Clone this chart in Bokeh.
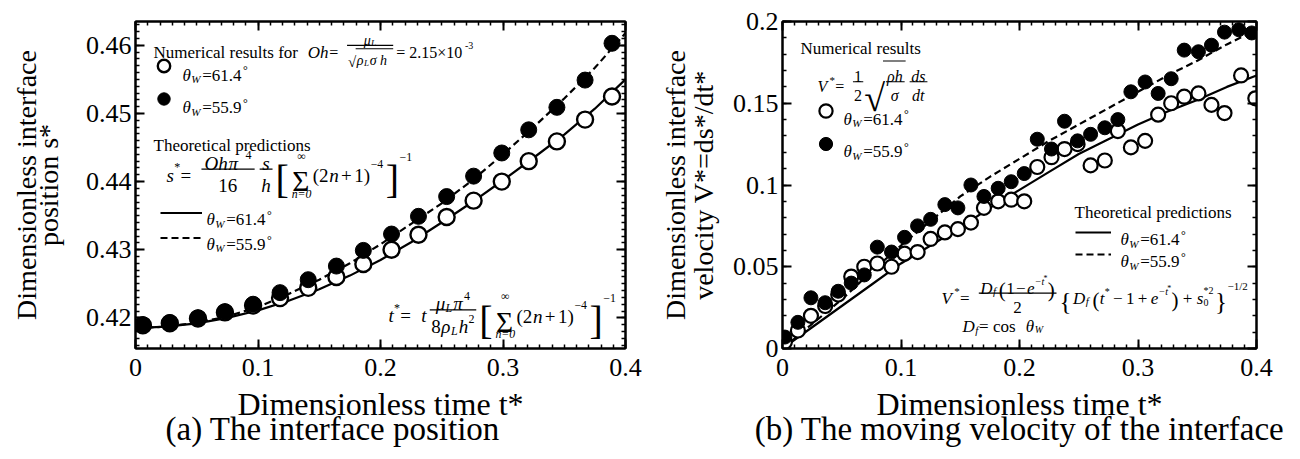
import numpy as np
from bokeh.plotting import figure
from bokeh.layouts import row
from bokeh.models import (Range1d, LinearAxis, FixedTicker, NumeralTickFormatter, Label,
                          BoxAnnotation, Legend, LegendItem, Title, CustomJSTickFormatter)
from bokeh.embed import file_html
from bokeh.resources import INLINE

FONT = "Liberation Serif"

# ---------------- panel (a): interface position ----------------
a_t = [0.006, 0.028, 0.051, 0.073, 0.096, 0.118, 0.141, 0.164, 0.186, 0.209,
       0.231, 0.254, 0.276, 0.299, 0.321, 0.344, 0.367, 0.389]
a_open_s = [0.4189, 0.4192, 0.4199, 0.4208, 0.4218, 0.4229, 0.4244, 0.4260, 0.4279, 0.4300,
            0.4322, 0.4348, 0.4372, 0.4400, 0.4430, 0.4459, 0.4491, 0.4525]   # theta_W = 61.4
a_fill_s = [0.4190, 0.4193, 0.4200, 0.4209, 0.4220, 0.4237, 0.4256, 0.4276, 0.4299, 0.4323,
            0.4349, 0.4378, 0.4408, 0.4442, 0.4476, 0.4509, 0.4549, 0.4603]   # theta_W = 55.9
a_theory_t = [0, 0.025, 0.05, 0.075, 0.1, 0.125, 0.15, 0.175, 0.2, 0.225, 0.25, 0.275,
              0.3, 0.325, 0.35, 0.375, 0.4]
a_theory_614 = [0.4185, 0.4187, 0.4192, 0.4200, 0.4211, 0.4225, 0.4242, 0.4262, 0.4285,
                0.4311, 0.4340, 0.4370, 0.4402, 0.4435, 0.4469, 0.4507, 0.4550]
a_theory_559 = [0.4185, 0.4187, 0.4193, 0.4202, 0.4216, 0.4235, 0.4256, 0.4280, 0.4308,
                0.4338, 0.4368, 0.4402, 0.4440, 0.4480, 0.4522, 0.4567, 0.4618]
a_xticks = [0, 0.1, 0.2, 0.3, 0.4]
a_yticks = [0.42, 0.43, 0.44, 0.45, 0.46]

# ---------------- panel (b): interface velocity ----------------
b_open_t = [0.002, 0.013, 0.024, 0.036, 0.047, 0.058, 0.069, 0.080, 0.092, 0.103,
            0.114, 0.125, 0.137, 0.148, 0.159, 0.170, 0.182, 0.193, 0.204, 0.215,
            0.227, 0.238, 0.249, 0.260, 0.272, 0.283, 0.294, 0.306, 0.317, 0.328,
            0.339, 0.351, 0.362, 0.373, 0.387, 0.399]
b_open_v = [0.004, 0.011, 0.020, 0.026, 0.033, 0.044, 0.050, 0.052, 0.050, 0.058,
            0.059, 0.067, 0.071, 0.073, 0.077, 0.086, 0.090, 0.091, 0.090, 0.111,
            0.117, 0.122, 0.125, 0.112, 0.115, 0.133, 0.123, 0.127, 0.143, 0.150,
            0.154, 0.156, 0.149, 0.144, 0.167, 0.153]
b_fill_t = [0.002, 0.013, 0.024, 0.036, 0.047, 0.058, 0.069, 0.080, 0.092, 0.103,
            0.114, 0.125, 0.137, 0.148, 0.159, 0.170, 0.182, 0.193, 0.204, 0.215,
            0.227, 0.238, 0.249, 0.260, 0.272, 0.283, 0.294, 0.306, 0.317, 0.328,
            0.339, 0.351, 0.362, 0.373, 0.385, 0.396]
b_fill_v = [0.007, 0.016, 0.031, 0.028, 0.035, 0.040, 0.045, 0.062, 0.059, 0.068,
            0.075, 0.079, 0.088, 0.086, 0.100, 0.093, 0.098, 0.102, 0.107, 0.128,
            0.122, 0.139, 0.127, 0.131, 0.135, 0.140, 0.157, 0.163, 0.156, 0.165,
            0.1825, 0.1815, 0.1855, 0.1935, 0.195, 0.193]
b_theory_t = [0, 0.025, 0.05, 0.075, 0.1, 0.125, 0.15, 0.175, 0.2, 0.225, 0.25, 0.275,
              0.3, 0.325, 0.35, 0.375, 0.4]
b_theory_614 = [0, 0.013, 0.026, 0.039, 0.052, 0.063, 0.074, 0.086, 0.097, 0.108, 0.119,
                0.128, 0.137, 0.145, 0.152, 0.160, 0.167]
b_theory_559 = [0, 0.015, 0.030, 0.047, 0.063, 0.078, 0.093, 0.105, 0.116, 0.127, 0.137,
                0.147, 0.157, 0.167, 0.176, 0.186, 0.195]
b_xticks = [0, 0.1, 0.2, 0.3, 0.4]
b_yticks = [0, 0.05, 0.1, 0.15, 0.2]

# ---------------- text helpers ----------------
TW = {' ': .25, '(': .333, ')': .333, '*': .5, '+': .564, ',': .25, '-': .333, '.': .25,
      '/': .278, '=': .564, '[': .333, ']': .333, '{': .48, '}': .48, '°': .4, '×': .564,
      '−': .564, '∞': .71, 'Σ': .6, '√': .55, 'θ': .5, 'μ': .5, 'ρ': .5, 'σ': .55, 'π': .55,
      'A': .722, 'B': .667, 'C': .667, 'D': .722, 'E': .611, 'F': .556, 'H': .722, 'L': .611,
      'N': .722, 'O': .722, 'P': .556, 'T': .611, 'V': .722, 'W': .944,
      'a': .444, 'b': .5, 'c': .444, 'd': .5, 'e': .444, 'f': .333, 'g': .5, 'h': .5, 'i': .278,
      'l': .278, 'm': .778, 'n': .5, 'o': .5, 'p': .5, 'r': .333, 's': .389, 't': .278, 'u': .5,
      'v': .5, 'y': .5}


def tw(s, size):
    return 1.04 * sum(TW.get(c, 0.5) for c in s) * size


def R(s, size=16, it=False, dy=0, gap=0):
    return (s, size, "italic" if it else "normal", dy, gap)


def width(parts):
    return sum(tw(s, size) + gap for s, size, st, dy, gap in parts)


class Panel:
    def __init__(self, p, fl, fr, ft, fb, xr, yr):
        self.p, self.fl, self.fr, self.ft, self.fb = p, fl, fr, ft, fb
        self.x0, self.x1 = xr
        self.y0, self.y1 = yr

    def X(self, px):
        return self.x0 + (px - self.fl) / (self.fr - self.fl) * (self.x1 - self.x0)

    def Y(self, py):
        return self.y1 - (py - self.ft) / (self.fb - self.ft) * (self.y1 - self.y0)

    def txt(self, px, py, s, size, style="normal", align="left"):
        self.p.add_layout(Label(x=self.X(px), y=self.Y(py), text=s, text_font=FONT,
                                text_font_size=f"{size:.1f}px", text_font_style=style,
                                text_align=align, text_baseline="alphabetic",
                                text_color="black"))

    def bar(self, px0, px1, py, w=1.2):
        self.p.add_layout(BoxAnnotation(left=self.X(px0), right=self.X(px1),
                                        top=self.Y(py - w / 2), bottom=self.Y(py + w / 2),
                                        fill_color="black", fill_alpha=1.0, line_color=None))


def runs(P, x, yb, parts):
    for s, size, style, dy, gap in parts:
        x += gap
        P.txt(x, yb + dy, s, size, style)
        x += tw(s, size)
    return x


def frac(P, x, axis, num, den, pad=1.5, ndy=-5, ddy=14):
    wn, wd = width(num), width(den)
    w = max(wn, wd) + 2 * pad
    runs(P, x + (w - wn) / 2, axis + ndy, num)
    runs(P, x + (w - wd) / 2, axis + ddy, den)
    P.bar(x, x + w, axis)
    return x + w


def bracket_sum(P, x, a, size=16):
    bs = 2.1 * size
    P.txt(x, a + 0.27 * bs, "[", bs)
    x += tw("[", bs) + 3
    ss = 1.55 * size
    sw = tw("Σ", ss)
    P.txt(x, a + 0.42 * ss, "Σ", ss)
    P.txt(x + sw / 2, a - 0.72 * size, "∞", 0.62 * size, align="center")
    P.txt(x + sw / 2, a + 1.3 * size, "n=0", 0.62 * size, "italic", align="center")
    x += sw + 2
    x = runs(P, x, a + 0.33 * size, [R("(2", size), R("n", size, True), R("+", size, gap=2),
                                      R("1)", size, gap=2), R("−4", 0.62 * size, dy=-0.6 * size)])
    P.txt(x + 2, a + 0.27 * bs, "]", bs)
    x += 2 + tw("]", bs)
    return runs(P, x, a - 0.62 * size, [R("−1", 0.62 * size)])


def theta(P, x, yb, val, size=17):
    return runs(P, x, yb, [R("θ", size, True), R("W", 0.65 * size, True, dy=4),
                           R("=" + val, size), R("°", 0.7 * size, dy=-5)])


# ---------------- figures ----------------
def style_axis(ax):
    ax.axis_line_width = 2
    ax.axis_line_color = "black"
    ax.major_tick_in = 9
    ax.major_tick_out = 0
    ax.major_tick_line_width = 2
    ax.minor_tick_in = 4
    ax.minor_tick_out = 0
    ax.minor_tick_line_width = 1.5
    ax.major_label_text_font = FONT
    ax.major_label_text_font_size = "26px"
    ax.major_label_text_color = "black"
    ax.major_label_standoff = 4
    ax.axis_label_text_font = FONT
    ax.axis_label_text_font_style = "normal"
    ax.axis_label_text_color = "black"


def make_fig(xr, yr, fl, fr, ft, fb, xticks, xminor, yticks, yminor, ylab1, ylab2,
             s_in, s_out, subtitle):
    p = figure(width=650, height=459, x_range=Range1d(*xr), y_range=Range1d(*yr),
               output_backend="svg", toolbar_location=None,
               min_border_left=fl, min_border_right=650 - fr,
               min_border_top=ft, min_border_bottom=459 - fb)
    p.xgrid.visible = False
    p.ygrid.visible = False
    p.outline_line_color = "black"
    p.outline_line_width = 2
    xt = FixedTicker(ticks=xticks, minor_ticks=xminor)
    yt = FixedTicker(ticks=yticks, minor_ticks=yminor)
    fmt = NumeralTickFormatter(format="0.[00]")
    xa, ya = p.xaxis[0], p.yaxis[0]
    xa.ticker, ya.ticker = xt, yt
    xa.formatter, ya.formatter = fmt, fmt
    style_axis(xa)
    style_axis(ya)
    xa.major_label_standoff = 10
    xa.axis_label = "Dimensionless time t*"
    xa.axis_label_text_font_size = "32px"
    xa.axis_label_standoff = 7
    ya.axis_label = ylab2
    ya.axis_label_text_font_size = "28px"
    ya.axis_label_standoff = s_in
    blank = CustomJSTickFormatter(code="return ''")
    outer = LinearAxis(ticker=FixedTicker(ticks=[]), formatter=blank, axis_label=ylab1,
                       axis_line_color=None, major_tick_in=0, major_tick_out=0,
                       minor_tick_in=0, minor_tick_out=0, major_label_standoff=0,
                       axis_label_standoff=s_out, axis_label_text_font=FONT,
                       axis_label_text_font_size="28px", axis_label_text_font_style="normal",
                       axis_label_text_color="black")
    p.add_layout(outer, "left")
    top = LinearAxis(ticker=xt, formatter=blank)
    right = LinearAxis(ticker=yt, formatter=blank)
    style_axis(top)
    style_axis(right)
    p.add_layout(top, "above")
    p.add_layout(right, "right")
    p.add_layout(subtitle, "below")
    return p


def key_legend(items, vx, vy, gw, gh):
    return Legend(items=items, location=(vx, vy), orientation="vertical",
                  glyph_width=gw, glyph_height=gh, spacing=0, padding=0, margin=0,
                  label_standoff=0, label_width=0, label_height=gh,
                  border_line_alpha=0, background_fill_alpha=0)


MINOR_T = [float(v) for v in np.round(np.arange(0, 0.4001, 0.01), 3)]

# ---- panel (a)
AFL, AFR, AFT, AFB = 135, 625, 18, 348
AXR, AYR = (0, 0.4), (0.4155, 0.4635)
pa = make_fig(AXR, AYR, AFL, AFR, AFT, AFB, a_xticks, MINOR_T,
              a_yticks, [float(v) for v in np.round(np.arange(0.416, 0.4636, 0.001), 4)],
              "Dimensionless interface", "position s*", 19, -12,
              Title(text="(a) The interface position", align="left", offset=30,
                    text_font=FONT, text_font_size="33px", text_font_style="normal",
                    text_color="black", standoff=-32))
ra1 = pa.line(a_theory_t, a_theory_614, line_color="black", line_width=2.2)
ra2 = pa.line(a_theory_t, a_theory_559, line_color="black", line_width=2.2, line_dash="7 4")
ra3 = pa.scatter(a_t, a_open_s, marker="circle", size=16, fill_color="white",
                 line_color="black", line_width=2.4)
ra4 = pa.scatter(a_t, a_fill_s, marker="circle", size=16, fill_color="black",
                 line_color="black", line_width=1)
pa.add_layout(key_legend([LegendItem(label="", renderers=[ra3]),
                          LegendItem(label="", renderers=[ra4])],
                         12.5, AFB - 114.5, 31, 33))
pa.add_layout(key_legend([LegendItem(label="", renderers=[ra1]),
                          LegendItem(label="", renderers=[ra2])],
                         25, AFB - 249.5, 42, 25))
Pa = Panel(pa, AFL, AFR, AFT, AFB, AXR, AYR)

x = runs(Pa, 153, 49, [R("Numerical results for", 17), R("Oh", 17, True, gap=4), R(" = ", 16)])
num = [R("μ", 14, True), R("L", 9, True, dy=3)]
den = [R("ρ", 14, True), R("L", 9, True, dy=3), R(" σ h", 14, True)]
wsq = tw("√", 15)
wd = wsq + width(den) + 2
axis_y = 42
runs(Pa, x + (wd - width(num)) / 2, axis_y - 5, num)
Pa.txt(x + 1, axis_y + 17, "√", 15)
runs(Pa, x + 1 + wsq, axis_y + 15, den)
Pa.bar(x + wsq, x + 2 + wsq + width(den), axis_y + 3.5, 1)
Pa.bar(x, x + wd, axis_y)
runs(Pa, x + wd + 3, 49, [R("= 2.15×10", 16), R("-3", 10, dy=-7)])

theta(Pa, 182, 72, "61.4")
theta(Pa, 182, 105, "55.9")
runs(Pa, 153, 143, [R("Theoretical predictions", 17)])

F = 19
a = 167
x = runs(Pa, 166, a + 6, [R("s", F, True), R("*", 12, dy=-8), R(" = ", F)])
x = frac(Pa, x, a, [R("Oh", F, True), R(" π", F, True), R("4", 12, dy=-8, gap=1)],
         [R("16", F)], pad=3, ndy=-6, ddy=17)
x = frac(Pa, x + 5, a, [R("s", F, True)], [R("h", F, True)], ndy=-6, ddy=17)
bracket_sum(Pa, x + 3, a, F)

theta(Pa, 206, 218, "61.4")
theta(Pa, 206, 243, "55.9")

a = 309
x = runs(Pa, 388, a + 6, [R("t", F, True), R("*", 12, dy=-8), R(" = ", F), R("t", F, True)])
x = frac(Pa, x + 3, a,
         [R("μ", F, True), R("L", 12, True, dy=4), R("π", F, True), R("4", 12, dy=-8)],
         [R("8", F), R("ρ", F, True), R("L", 12, True, dy=4), R("h", F, True),
          R("2", 12, dy=-8)], ndy=-6, ddy=17)
bracket_sum(Pa, x + 3, a, F)

# ---- panel (b)
BFL, BFR, BFT, BFB = 132, 606, 21, 352
BXR, BYR = (0, 0.4), (0, 0.2)
pb = make_fig(BXR, BYR, BFL, BFR, BFT, BFB, b_xticks, MINOR_T,
              b_yticks, [float(v) for v in np.round(np.arange(0, 0.2001, 0.01), 3)],
              "Dimensionless interface", "velocity V*=ds*/dt*", 11, -6,
              Title(text="(b) The moving velocity of the interface", align="center",
                    text_font=FONT, text_font_size="33px", text_font_style="normal",
                    text_color="black", standoff=-32))
rb1 = pb.line(b_theory_t, b_theory_614, line_color="black", line_width=2.2)
rb2 = pb.line(b_theory_t, b_theory_559, line_color="black", line_width=2.2, line_dash="7 4")
rb3 = pb.scatter(b_open_t, b_open_v, marker="circle", size=14, fill_color="white",
                 line_color="black", line_width=2.2)
rb4 = pb.scatter(b_fill_t, b_fill_v, marker="circle", size=14, fill_color="black",
                 line_color="black", line_width=1)
pb.add_layout(key_legend([LegendItem(label="", renderers=[rb3]),
                          LegendItem(label="", renderers=[rb4])],
                         26.5, BFB - 163.5, 33, 33))
pb.add_layout(key_legend([LegendItem(label="", renderers=[rb1]),
                          LegendItem(label="", renderers=[rb2])],
                         293, BFB - 269, 36, 22))
Pb = Panel(pb, BFL, BFR, BFT, BFB, BXR, BYR)

runs(Pb, 150, 48, [R("Numerical results", 17)])
a = 82
x = runs(Pb, 167, a + 5, [R("V", 16, True), R("*", 11, dy=-7), R(" = ", 16)])
x = frac(Pb, x, a, [R("1")], [R("2")], pad=1)
Pb.txt(x + 1, a + 16, "√", 38)
xs = x + 1 + tw("√", 38)
xe = frac(Pb, xs, a, [R("ρh", 16, True)], [R("σ", 16, True)], pad=1)
Pb.bar(xs - 3, xe + 1, a - 21, 1)
frac(Pb, xe + 5, a, [R("ds", 16, True)], [R("dt", 16, True)])

theta(Pb, 193, 120, "61.4")
theta(Pb, 193, 153, "55.9")

runs(Pb, 424, 214, [R("Theoretical predictions", 17)])
theta(Pb, 470, 242, "61.4")
theta(Pb, 470, 264, "55.9")

G = 17
a = 296
x = runs(Pb, 291, a + 5, [R("V", G, True), R("*", 11, dy=-7), R(" = ", G)])
num = [R("D", G, True), R("f", 11, True, dy=3), R("(", 21, dy=2, gap=2), R("1", G),
       R("−", G, gap=1), R("e", G, True, gap=1), R("−t", 10, True, dy=-7), R("*", 8, dy=-10),
       R(")", 21, dy=2)]
x = frac(Pb, x, a, num, [R("2", G)], ndy=-5, ddy=15)
yb = a + 5
x = runs(Pb, x + 3, yb + 3, [R("{", 25)])
x = runs(Pb, x + 1, yb, [R("D", G, True), R("f", 11, True, dy=3), R("(", 21, dy=2, gap=3),
                         R("t", G, True), R("*", 10, dy=-7), R("−", G, gap=3),
                         R("1", G, gap=3), R("+", G, gap=3), R("e", G, True, gap=3),
                         R("−t", 10, True, dy=-7), R("*", 8, dy=-10), R(")", 21, dy=2),
                         R("+", G, gap=4), R("s", G, True, gap=4)])
Pb.txt(x, yb + 4, "0", 10)
Pb.txt(x, yb - 8, "*2", 10)
x += tw("*2", 10) + 1
x = runs(Pb, x, yb + 3, [R("}", 25)])
runs(Pb, x, yb - 12, [R("−1/2", 11)])

runs(Pb, 312, 330, [R("D", G, True), R("f", 11, True, dy=3), R(" = cos ", G),
                    R("θ", G, True), R("W", 10, True, dy=3)])

layout = row(pa, pb)
open("out.html", "w").write(file_html(layout, INLINE))
